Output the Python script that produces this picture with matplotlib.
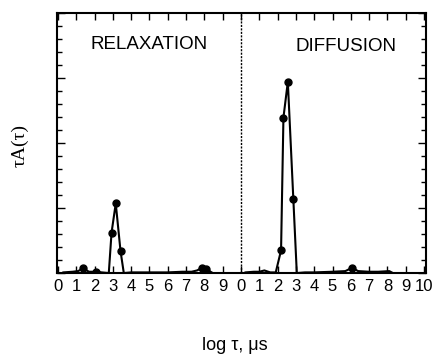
import numpy as np
import matplotlib.pyplot as plt
from matplotlib.ticker import MultipleLocator

# relaxation branch (log tau 0..10 mapped to 0..10)
relax_x = [0.3, 0.8, 1.1, 1.38, 1.7, 2.07, 2.4, 2.78, 2.93, 3.16, 3.42, 3.6, 4.0, 5.0, 6.0, 6.8, 7.3, 7.6, 7.86, 8.1, 8.4]
relax_y = [0.01, 0.02, 0.03, 0.07, 0.02, 0.02, 0.01, 0.0, 0.62, 1.07, 0.34, 0.0, 0.01, 0.01, 0.01, 0.02, 0.02, 0.04, 0.08, 0.06, 0.01]
relax_dots_x = [1.38, 2.07, 2.93, 3.16, 3.42, 7.86, 8.1]
relax_dots_y = [0.07, 0.02, 0.62, 1.07, 0.34, 0.08, 0.06]

# diffusion branch (log tau 0..10 shifted by 10)
diff_x = [10.25, 10.7, 11.0, 11.28, 11.6, 11.9, 12.19, 12.32, 12.56, 12.86, 13.05, 13.5, 14.0, 15.0, 15.7, 16.06, 16.4, 17.0, 17.5, 18.1, 18.3]
diff_y = [0.01, 0.02, 0.02, 0.04, 0.01, 0.01, 0.35, 2.39, 2.94, 1.14, 0.0, 0.01, 0.01, 0.02, 0.03, 0.08, 0.03, 0.02, 0.02, 0.03, 0.0]
diff_dots_x = [12.19, 12.32, 12.56, 12.86, 16.06]
diff_dots_y = [0.35, 2.39, 2.94, 1.14, 0.08]

tick_pos = list(range(21))
tick_lab = [str(i) for i in range(10)] + [str(i) for i in range(11)]

fig = plt.figure(figsize=(4.35, 3.56), dpi=100)
ax = fig.add_axes([0.131, 0.233, 0.848, 0.731])

ax.plot(relax_x, relax_y, color='black', lw=1.5)
ax.plot(diff_x, diff_y, color='black', lw=1.5)
ax.plot(relax_dots_x, relax_dots_y, 'o', color='black', ms=5)
ax.plot(diff_dots_x, diff_dots_y, 'o', color='black', ms=5)
ax.axvline(10, color='black', lw=1, linestyle=(0, (1.5, 1)))

ax.set_xlim(-0.05, 20.1)
ax.set_ylim(0, 4)
ax.set_xticks(tick_pos)
ax.set_xticklabels(tick_lab, family='Liberation Sans', fontsize=12)
ax.yaxis.set_major_locator(MultipleLocator(1))
ax.yaxis.set_minor_locator(MultipleLocator(0.2))
ax.set_yticklabels([])
ax.tick_params(axis='x', direction='in', top=True, length=5, width=1, pad=4)
ax.tick_params(axis='y', which='major', direction='in', right=True, length=6, width=1)
ax.tick_params(axis='y', which='minor', direction='in', right=True, length=3.5, width=1)
for s in ax.spines.values():
    s.set_linewidth(1.5)

ax.text(5.0, 3.52, 'RELAXATION', ha='center', va='center', family='Liberation Sans', fontsize=13.5)
ax.text(15.75, 3.48, 'DIFFUSION', ha='center', va='center', family='Liberation Sans', fontsize=13.5)

fig.text(0.046, 0.59, 'τA(τ)', rotation=90, ha='center', va='center', family='Liberation Serif', fontsize=14)
fig.text(0.54, 0.03, 'log τ, μs', ha='center', va='center', family='Liberation Sans', fontsize=13)

fig.savefig('out.png', dpi=100)
